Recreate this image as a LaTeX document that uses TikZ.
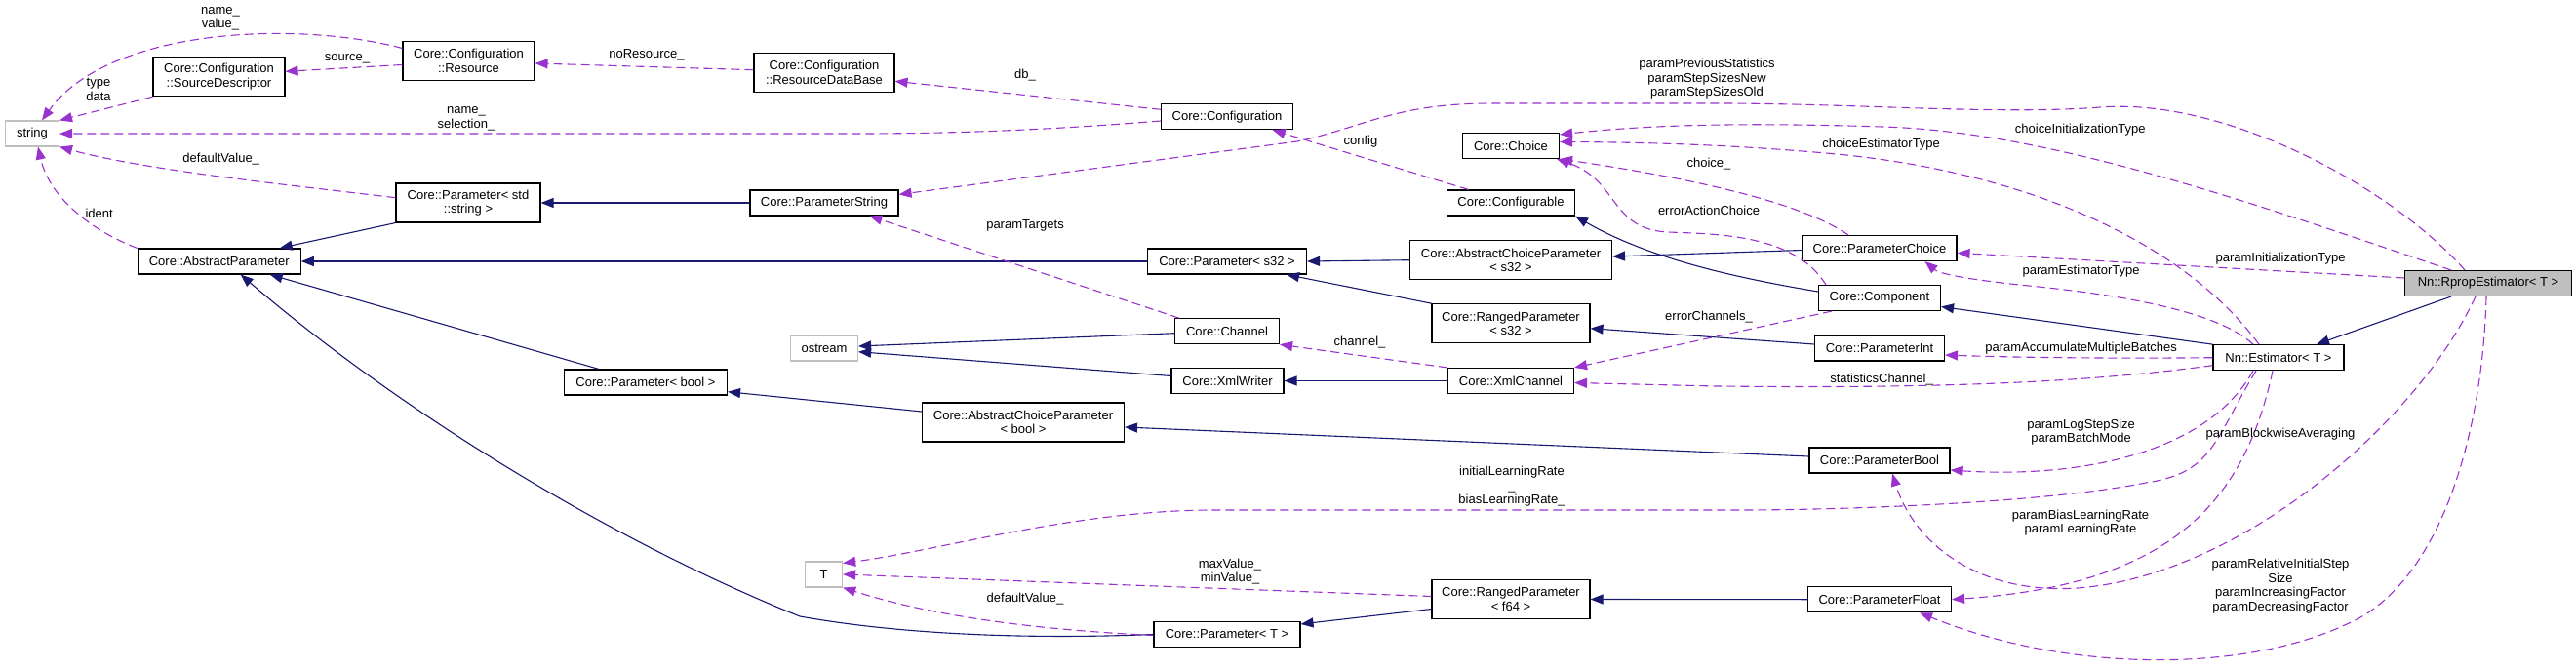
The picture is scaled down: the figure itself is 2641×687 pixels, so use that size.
\documentclass[tikz,border=0pt]{standalone}
\usepackage{fontspec}
\setmainfont{Liberation Sans}
\usetikzlibrary{arrows.meta,calc}
\definecolor{navyc}{HTML}{191970}
\definecolor{purpc}{HTML}{9A32CD}
\definecolor{grayb}{HTML}{BFBFBF}
\begin{document}
\begin{tikzpicture}[x=1pt,y=-1pt,
 cls/.style={draw=black, line width=1.1pt, fill=white, align=center, inner sep=0pt, font=\fontsize{13}{14.5}\selectfont, minimum height=26pt},
 cls2/.style={cls, minimum height=40pt},
 ext/.style={cls, draw=grayb},
 inh/.style={draw=navyc, line width=1.1pt, -{Triangle[length=13pt,width=10pt]}},
 use/.style={draw=purpc, line width=1.1pt, dash pattern=on 9pt off 5pt, -{Triangle[length=13pt,width=10pt]}},
 lbl/.style={align=center, inner sep=0pt, font=\fontsize{13}{14.5}\selectfont}]
\useasboundingbox (0,0) rectangle (2641,687);
\fill[white] (0,0) rectangle (2641,687);

% nodes
\node[ext, minimum width=55pt] (string) at (33,137) {string};
\node[cls2, minimum width=135pt] (srcdesc) at (224.5,78.7) {Core::Configuration\\::SourceDescriptor};
\node[cls2, minimum width=135pt] (resource) at (480.5,62.5) {Core::Configuration\\::Resource};
\node[cls2, minimum width=144pt] (resdb) at (845,74.3) {Core::Configuration\\::ResourceDataBase};
\node[cls2, minimum width=148pt] (pstdstr) at (480,208) {Core::Parameter< std\\::string >};
\node[cls, minimum width=152pt] (pstring) at (845,208) {Core::ParameterString};
\node[cls, minimum width=167pt] (absparam) at (224.7,268) {Core::AbstractParameter};
\node[ext, minimum width=69pt] (ostream) at (845,357) {ostream};
\node[cls, minimum width=167pt] (pbool) at (662,392) {Core::Parameter< bool >};
\node[ext, minimum width=38pt] (T) at (844.6,589) {T};
\node[cls, minimum width=135pt] (config) at (1258,119.7) {Core::Configuration};
\node[cls, minimum width=99pt] (choice) at (1549,149.5) {Core::Choice};
\node[cls, minimum width=131pt] (configurable) at (1549,208) {Core::Configurable};
\node[cls, minimum width=163pt] (ps32) at (1258,268) {Core::Parameter< s32 >};
\node[cls2, minimum width=207pt] (acps32) at (1549,266.7) {Core::AbstractChoiceParameter\\< s32 >};
\node[cls2, minimum width=162pt] (rps32) at (1549,331.7) {Core::RangedParameter\\< s32 >};
\node[cls, minimum width=107pt] (channel) at (1258,339.7) {Core::Channel};
\node[cls, minimum width=115pt] (xmlwriter) at (1258.5,390.5) {Core::XmlWriter};
\node[cls, minimum width=129pt] (xmlchannel) at (1549,390.5) {Core::XmlChannel};
\node[cls2, minimum width=207pt] (acpbool) at (1049,433) {Core::AbstractChoiceParameter\\< bool >};
\node[cls2, minimum width=162pt] (rpf64) at (1549,614.5) {Core::RangedParameter\\< f64 >};
\node[cls, minimum width=150pt] (pT) at (1258,650.5) {Core::Parameter< T >};
\node[cls, minimum width=158pt] (pchoice) at (1927,254.5) {Core::ParameterChoice};
\node[cls, minimum width=125pt] (component) at (1927,305.5) {Core::Component};
\node[cls, minimum width=171pt, fill=grayb] (rprop) at (2551,290.5) {Nn::RpropEstimator< T >};
\node[cls, minimum width=133pt] (pint) at (1927,357) {Core::ParameterInt};
\node[cls, minimum width=134pt] (estimator) at (2336,366.7) {Nn::Estimator< T >};
\node[cls, minimum width=144pt] (pboolcls) at (1927,472) {Core::ParameterBool};
\node[cls, minimum width=147pt] (pfloat) at (1927,614.7) {Core::ParameterFloat};

% inheritance edges
\draw[inh] (pstdstr.south west) -- ([xshift=62]absparam.north);
\draw[inh] (pstring.west) -- (pstdstr.east);
\draw[inh] (ps32.west) -- (absparam.east);
\draw[inh] ([xshift=-48]pbool.north) -- ([xshift=52]absparam.south);
\draw[inh] (pT.west) .. controls (1050,656) and (920,650) .. (820,632) .. controls (640,560) and (420,430) .. ([xshift=22]absparam.south);
\draw[inh] ([yshift=6.5]component.west) .. controls (1780,285) and (1690,265) .. (configurable.south east);
\draw[inh] (estimator.north west) -- ([yshift=-9]component.east);
\draw[inh] ([xshift=-38]rprop.south) -- ([xshift=39]estimator.north);
\draw[inh] (acps32.west) -- (ps32.east);
\draw[inh] (rps32.north west) -- ([xshift=61]ps32.south);
\draw[inh] ([yshift=-2]pchoice.west) -- ([yshift=3.7]acps32.east);
\draw[inh] ([yshift=4]pint.west) -- ([yshift=-5]rps32.east);
\draw[inh] ([yshift=-2]channel.west) -- ([yshift=2]ostream.east);
\draw[inh] ([yshift=5]xmlwriter.west) -- ([yshift=-3.7]ostream.east);
\draw[inh] (xmlchannel.west) -- (xmlwriter.east);
\draw[inh] ([yshift=4]pboolcls.west) -- ([yshift=-5]acpbool.east);
\draw[inh] ([yshift=11]acpbool.west) -- ([yshift=-9.7]pbool.east);
\draw[inh] ([yshift=-10]rpf64.west) -- ([yshift=-3]pT.north east);
\draw[inh] (pfloat.west) -- (rpf64.east);

% usage edges
\draw[use] ([yshift=13]resource.west) .. controls (300,20) and (110,30) .. ([xshift=10]string.north);
\draw[use] (srcdesc.south west) -- (string.north east);
\draw[use] ([yshift=-4]resource.west) -- ([yshift=5.4]srcdesc.east);
\draw[use] ([yshift=2.6]resdb.west) -- ([yshift=-2.5]resource.east);
\draw[use] ([yshift=7.4]config.west) -- ([yshift=-9]resdb.east);
\draw[use] ([yshift=-4.3]config.west) .. controls (1080,133) and (980,137) .. (880,137) -- (string.east);
\draw[use] ([xshift=-43.4]configurable.north) -- ([xshift=46.7]config.south);
\draw[use] ([yshift=5.3]pstdstr.west) .. controls (300,190) and (150,175) .. (string.south east);
\draw[use] (absparam.north west) .. controls (90,235) and (50,200) .. ([xshift=6]string.south);
\draw[use] ([xshift=-24]rprop.north) .. controls (2450,190) and (2280,100) .. (2153,110) .. controls (2050,118) and (1900,106) .. (1760,106) -- (1530,106) .. controls (1430,106) and (1400,130) .. (1330,145) -- ([yshift=-5]pstring.north east);
\draw[use] ([xshift=-38]rprop.north) .. controls (2300,205) and (2100,135) .. (1930,130) .. controls (1800,126) and (1700,127) .. ([yshift=-2]choice.north east);
\draw[use] ([xshift=-20]estimator.north) .. controls (2240,250) and (2080,175) .. (1872,157) .. controls (1780,149) and (1700,146) .. ([yshift=4]choice.east);
\draw[use] ([xshift=-32]pchoice.north) .. controls (1850,210) and (1750,185) .. (choice.south east);
\draw[use] ([xshift=-55]component.north) .. controls (1840,240) and (1760,240) .. (1710,238) .. controls (1650,235) and (1660,185) .. ([xshift=-3]choice.south east);
\draw[use] ([xshift=-26]estimator.north) .. controls (2270,315) and (2150,300) .. (2080,293) .. controls (2030,288) and (1990,282) .. ([xshift=46.5]pchoice.south);
\draw[use] ([yshift=5.5]rprop.west) -- ([yshift=-4.8]pchoice.east);
\draw[use] ([xshift=-49]component.south) -- (xmlchannel.north east);
\draw[use] (xmlchannel.north west) -- (channel.south east);
\draw[use] ([xshift=5]channel.north west) -- ([xshift=46.5]pstring.south);
\draw[use] (estimator.west) .. controls (2150,368) and (2050,366) .. ([yshift=-7]pint.east);
\draw[use] ([yshift=-8]estimator.west) .. controls (2120,395) and (1950,398) .. (1760,396) -- ([yshift=-2]xmlchannel.east);
\draw[use] ([xshift=-26]estimator.south) .. controls (2260,470) and (2120,490) .. ([yshift=-10]pboolcls.east);
\draw[use] ([xshift=-23]estimator.south) .. controls (2270,450) and (2270,485) .. (2200,495) .. controls (2100,515) and (1900,523) .. (1780,523) -- (1240,523) .. controls (1100,524) and (960,565) .. ([yshift=-2]T.north east);
\draw[use] ([xshift=-6]estimator.south) .. controls (2300,520) and (2220,600) .. (pfloat.east);
\draw[use] ([xshift=-13]rprop.south) .. controls (2480,430) and (2300,590) .. (2130,603) .. controls (2020,610) and (1960,550) .. ([xshift=13]pboolcls.south);
\draw[use] ([xshift=-2]rprop.south) .. controls (2545,450) and (2500,600) .. (2406,640) .. controls (2300,690) and (2120,690) .. ([xshift=41]pfloat.south);
\draw[use] ([yshift=3]rpf64.west) -- (T.east);
\draw[use] ([yshift=-1]pT.west) .. controls (1050,645) and (950,630) .. (T.south east);

% labels
\node[lbl] (l1) at (226,19.5) {name\_\\value\_};
\node[lbl] (l2) at (356,60) {source\_};
\node[lbl] (l3) at (101,92) {type\\data};
\node[lbl] (l4) at (663,56.7) {noResource\_};
\node[lbl] (l5) at (1051,77) {db\_};
\node[lbl] (l6) at (478,121.7) {name\_\\selection\_};
\node[lbl] (l7) at (1395,145) {config};
\node[lbl] (l8) at (226.7,162.7) {defaultValue\_};
\node[lbl] (l9) at (101.6,219) {ident};
\node[lbl] (l10) at (1750,81) {paramPreviousStatistics\\paramStepSizesNew\\paramStepSizesOld};
\node[lbl] (l11) at (2132.8,132.7) {choiceInitializationType};
\node[lbl] (l12) at (1928.6,148.3) {choiceEstimatorType};
\node[lbl] (l13) at (1752,167.7) {choice\_};
\node[lbl] (l14) at (1752,216) {errorActionChoice};
\node[lbl] (l15) at (2338,265) {paramInitializationType};
\node[lbl] (l16) at (2133.6,278.3) {paramEstimatorType};
\node[lbl] (l17) at (1752,325) {errorChannels\_};
\node[lbl] (l18) at (1394,350.7) {channel\_};
\node[lbl] (l19) at (1051,231) {paramTargets};
\node[lbl] (l20) at (2133.6,356.7) {paramAccumulateMultipleBatches};
\node[lbl] (l21) at (1929,389) {statisticsChannel\_};
\node[lbl] (l22) at (2133.6,443.3) {paramLogStepSize\\paramBatchMode};
\node[lbl] (l23) at (2338,445) {paramBlockwiseAveraging};
\node[lbl] (l24) at (1550,499) {initialLearningRate\\\_\\biasLearningRate\_};
\node[lbl] (l25) at (2133,536) {paramBiasLearningRate\\paramLearningRate};
\node[lbl] (l26) at (2338,601) {paramRelativeInitialStep\\Size\\paramIncreasingFactor\\paramDecreasingFactor};
\node[lbl] (l27) at (1261,586) {maxValue\_\\minValue\_};
\node[lbl] (l28) at (1051,614.3) {defaultValue\_};
\end{tikzpicture}
\end{document}
